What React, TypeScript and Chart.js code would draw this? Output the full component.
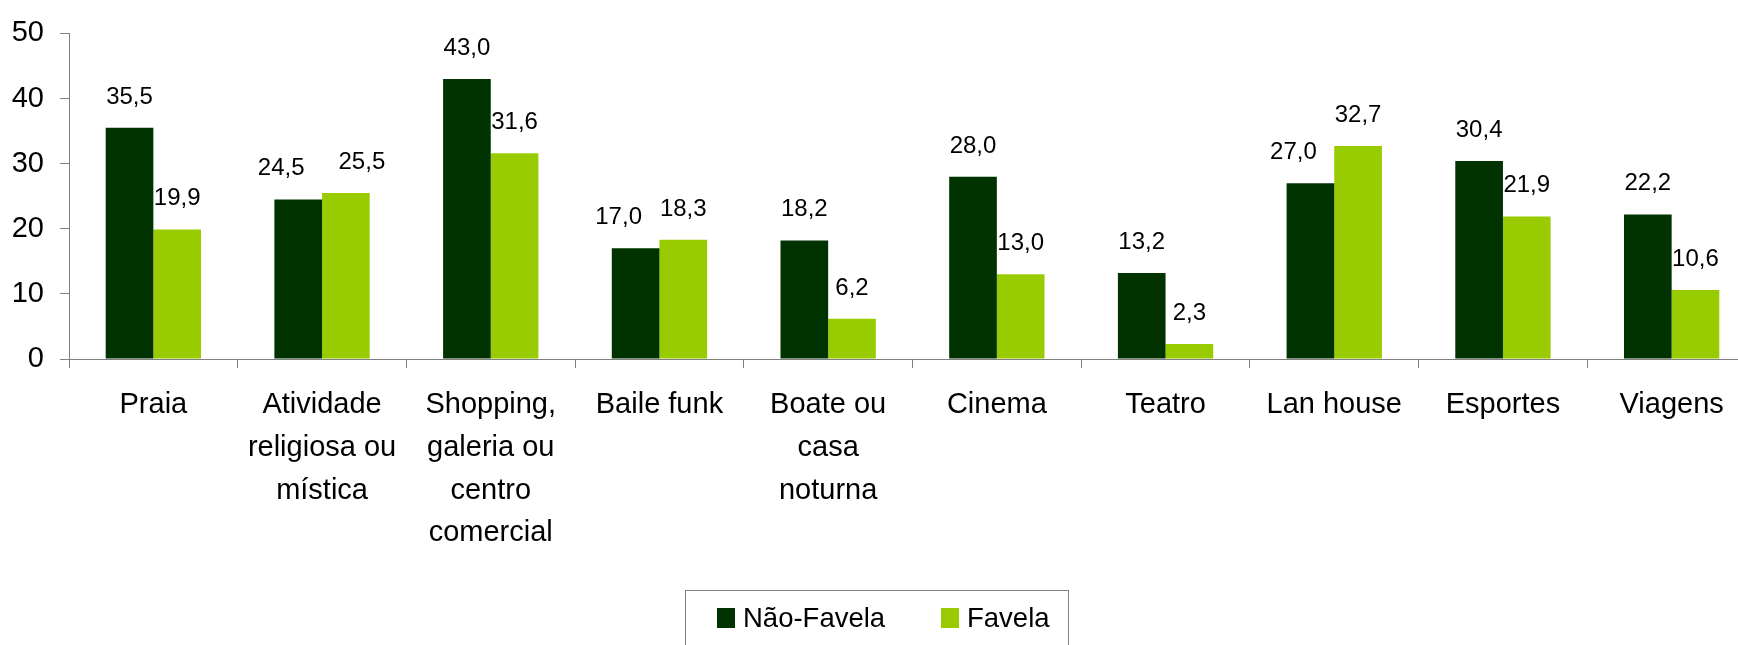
import React, { useEffect, useRef } from "react";
import { Chart, registerables } from "chart.js";

Chart.register(...registerables);

const categories: (string | string[])[] = [
  "Praia",
  ["Atividade", "religiosa ou", "mística"],
  ["Shopping,", "galeria ou", "centro", "comercial"],
  "Baile funk",
  ["Boate ou", "casa", "noturna"],
  "Cinema",
  "Teatro",
  "Lan house",
  "Esportes",
  "Viagens",
];

const naoFavela = [35.5, 24.5, 43.0, 17.0, 18.2, 28.0, 13.2, 27.0, 30.4, 22.2];
const favela = [19.9, 25.5, 31.6, 18.3, 6.2, 13.0, 2.3, 32.7, 21.9, 10.6];

const seriesNames = ["Não-Favela", "Favela"];
const seriesColors = ["#003300", "#99CC00"];

const FONT = "'Liberation Sans', Arial, Helvetica, sans-serif";

const fmt = (v: number) => v.toFixed(1).replace(".", ",");

// Draws value labels above bars; when the left label would collide with the
// neighbouring bar or label, it is nudged aside (as the spreadsheet does).
const valueLabels = {
  id: "valueLabels",
  afterDatasetsDraw(chart: any) {
    const ctx = chart.ctx;
    ctx.save();
    ctx.font = `24px ${FONT}`;
    ctx.fillStyle = "#000";
    ctx.textAlign = "center";
    ctx.textBaseline = "alphabetic";
    const OFF = 24;
    const H = 18;
    const m0 = chart.getDatasetMeta(0);
    const m1 = chart.getDatasetMeta(1);
    const d0 = chart.data.datasets[0].data as number[];
    const d1 = chart.data.datasets[1].data as number[];
    m0.data.forEach((b0: any, i: number) => {
      const b1 = m1.data[i];
      const t0 = fmt(d0[i]);
      const t1 = fmt(d1[i]);
      const w0 = ctx.measureText(t0).width;
      const w1 = ctx.measureText(t1).width;
      let x0 = b0.x;
      let x1 = b1.x;
      const y0 = b0.y - OFF;
      const y1 = b1.y - OFF;
      const right0 = x0 + w0 / 2;
      const left1Bar = b1.x - b1.width / 2;
      const left1Lab = x1 - w1 / 2;
      const overlapLabel = right0 > left1Lab - 4 && Math.abs(y0 - y1) < H + 4;
      const overlapBar = right0 > left1Bar - 3 && y0 > b1.y - 4;
      if (overlapLabel || overlapBar) {
        x0 -= 17;
        if (Math.abs(y0 - y1) < 8) x1 += 16;
      }
      ctx.fillText(t0, x0, y0);
      ctx.fillText(t1, x1, y1);
    });
    ctx.restore();
  },
};

export default function App() {
  const ref = useRef<HTMLCanvasElement | null>(null);

  useEffect(() => {
    document.body.style.margin = "0";
    const canvas = ref.current;
    if (!canvas) return;
    const chart = new Chart(canvas, {
      type: "bar",
      data: {
        labels: categories,
        datasets: [
          {
            label: seriesNames[0],
            data: naoFavela,
            backgroundColor: seriesColors[0],
            borderWidth: 0,
            barPercentage: 1,
            categoryPercentage: 0.565,
          },
          {
            label: seriesNames[1],
            data: favela,
            backgroundColor: seriesColors[1],
            borderWidth: 0,
            barPercentage: 1,
            categoryPercentage: 0.565,
          },
        ],
      },
      options: {
        animation: false,
        responsive: false,
        devicePixelRatio: 1,
        layout: { padding: { top: 29, left: 0, right: 0, bottom: 0 } },
        plugins: {
          legend: { display: false },
          tooltip: { enabled: false },
        },
        scales: {
          x: {
            grid: {
              offset: true,
              drawOnChartArea: false,
              drawTicks: true,
              tickLength: 9,
              color: "#808080",
            },
            border: { color: "#808080", width: 1 },
            ticks: {
              color: "#000",
              padding: 16,
              maxRotation: 0,
              autoSkip: false,
              font: { family: FONT, size: 29, lineHeight: 1.47 },
            },
            afterFit: (scale: any) => {
              scale.height = 286;
            },
          },
          y: {
            min: 0,
            max: 50,
            ticks: {
              stepSize: 10,
              color: "#000",
              padding: 16,
              font: { family: FONT, size: 29 },
            },
            grid: {
              drawOnChartArea: false,
              drawTicks: true,
              tickLength: 9,
              color: "#808080",
            },
            border: { color: "#808080", width: 1 },
            afterFit: (scale: any) => {
              scale.width = 69;
            },
          },
        },
      },
      plugins: [valueLabels],
    });
    return () => chart.destroy();
  }, []);

  return (
    <div
      style={{
        position: "relative",
        width: 1738,
        height: 645,
        overflow: "hidden",
        background: "#fff",
      }}
    >
      <canvas
        ref={ref}
        width={1756}
        height={645}
        style={{ width: 1756, height: 645, display: "block" }}
      />
      <div
        style={{
          position: "absolute",
          left: 685,
          top: 590,
          width: 384,
          height: 80,
          border: "1px solid #808080",
          boxSizing: "border-box",
          fontFamily: FONT,
          fontSize: 27.5,
          color: "#000",
        }}
      >
        {seriesNames.map((name, i) => (
          <div
            key={name}
            style={{
              position: "absolute",
              left: i === 0 ? 31 : 255,
              top: 11,
              display: "flex",
              alignItems: "center",
              height: 32,
              whiteSpace: "nowrap",
            }}
          >
            <span
              style={{
                display: "inline-block",
                width: 18,
                height: 20,
                background: seriesColors[i],
                marginRight: 8,
              }}
            />
            <span>{name}</span>
          </div>
        ))}
      </div>
    </div>
  );
}
